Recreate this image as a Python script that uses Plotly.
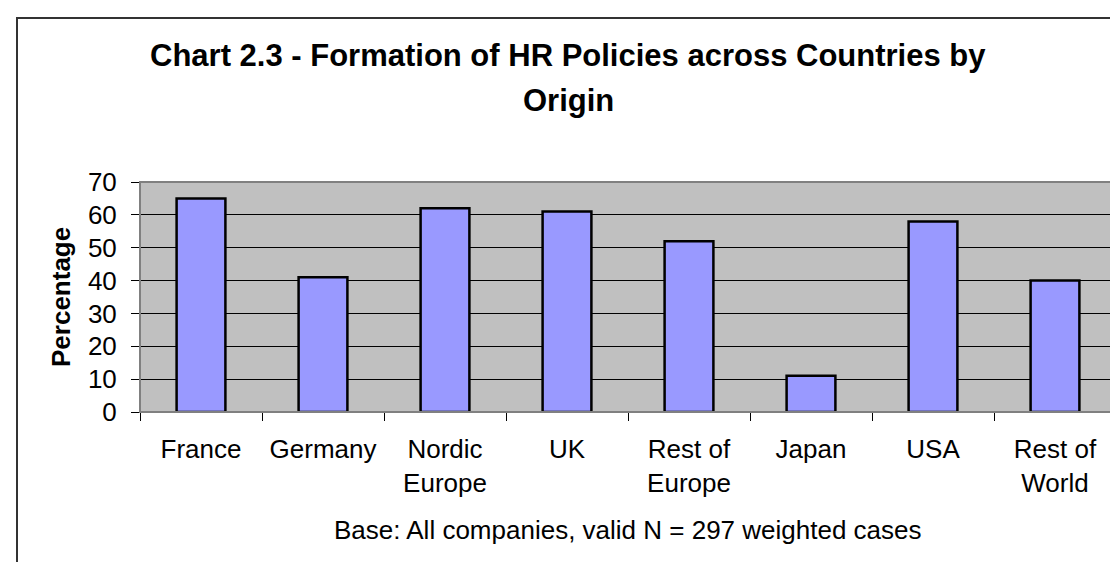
import plotly.graph_objects as go

categories = ["France", "Germany", "Nordic<br>Europe", "UK", "Rest of<br>Europe",
              "Japan", "USA", "Rest of<br>World"]
values = [65, 41, 62, 61, 52, 11, 58, 40]
y_ticks = [0, 10, 20, 30, 40, 50, 60, 70]

title_line1 = "Chart 2.3 - Formation of HR Policies across Countries by"
title_line2 = "Origin"
y_title = "Percentage"
base_note = "Base: All companies, valid N = 297 weighted cases"

W, H = 1118, 562
L, R, T, B = 132, 10, 174, 158
pw = W - L - R
ph = H - T - B


def px_x(p):
    return (p - L) / pw


def px_y(p):
    return (H - B - p) / ph


FONT = "Arial, Liberation Sans, sans-serif"

fig = go.Figure()
fig.add_trace(go.Bar(
    x=categories, y=values,
    marker=dict(color="#9999FF", line=dict(color="black", width=2.5)),
    hoverinfo="x+y",
))

fig.update_layout(
    width=W, height=H,
    margin=dict(l=L, r=R, t=T, b=B),
    paper_bgcolor="white",
    plot_bgcolor="#C0C0C0",
    bargap=0.6,
    showlegend=False,
    font=dict(family=FONT, size=26, color="black"),
    xaxis=dict(
        type="category",
        showline=True, linecolor="black", linewidth=1,
        ticks="outside", tickson="boundaries", ticklen=8, tickcolor="black", tickwidth=1,
        ticklabelstandoff=14,
        tickfont=dict(family=FONT, size=26, color="black"),
        showgrid=False,
    ),
    yaxis=dict(
        range=[0, 70],
        tickvals=y_ticks,
        showline=False,
        ticks="outside", ticklen=8, tickcolor="black", tickwidth=1,
        ticklabelstandoff=9,
        tickfont=dict(family=FONT, size=26, color="black"),
        showgrid=True, gridcolor="black", gridwidth=1,
        zeroline=False,
    ),
)

# plot area border (gray)
fig.add_shape(type="rect", xref="paper", yref="paper", x0=0, x1=1, y0=0, y1=1,
              line=dict(color="#808080", width=2), layer="above")
# outer chart border
fig.add_shape(type="rect", xref="paper", yref="paper",
              x0=px_x(9), x1=px_x(1130), y0=px_y(575), y1=px_y(10),
              line=dict(color="#333333", width=2), layer="above")

fig.add_annotation(text="<b>%s</b>" % title_line1, xref="paper", yref="paper",
                   x=px_x(560), y=px_y(47), xanchor="center", yanchor="middle",
                   showarrow=False, font=dict(family=FONT, size=31, color="black"))
fig.add_annotation(text="<b>%s</b>" % title_line2, xref="paper", yref="paper",
                   x=px_x(560), y=px_y(92), xanchor="center", yanchor="middle",
                   showarrow=False, font=dict(family=FONT, size=31, color="black"))
fig.add_annotation(text="<b>%s</b>" % y_title, xref="paper", yref="paper",
                   x=px_x(53), y=0.5, xanchor="center", yanchor="middle", textangle=-90,
                   showarrow=False, font=dict(family=FONT, size=26, color="black"))
fig.add_annotation(text=base_note, xref="paper", yref="paper",
                   x=0.5, y=px_y(522), xanchor="center", yanchor="middle",
                   showarrow=False, font=dict(family=FONT, size=26, color="black"))

fig.write_html("out.html")
